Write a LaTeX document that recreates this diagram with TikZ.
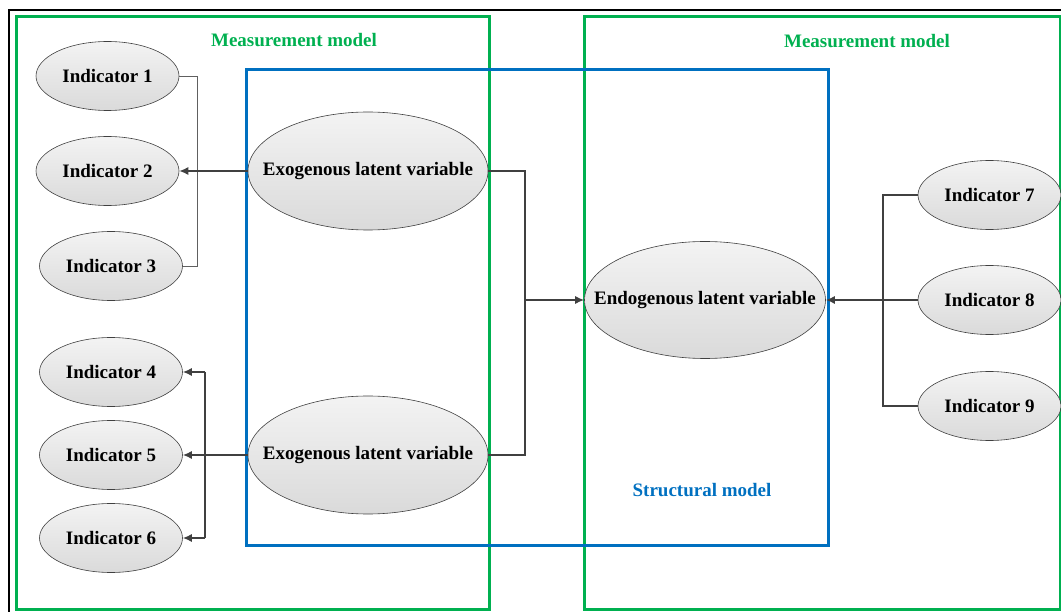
\documentclass[tikz,border=0pt]{standalone}
\usepackage{fontspec}
\setmainfont{Liberation Serif}
\usetikzlibrary{shapes.geometric,arrows.meta}

\definecolor{mgreen}{RGB}{0,176,80}
\definecolor{sblue}{RGB}{0,112,192}
\definecolor{linegray}{RGB}{64,64,64}
\definecolor{thingray}{RGB}{96,96,96}
\definecolor{elltop}{RGB}{243,243,243}
\definecolor{ellbot}{RGB}{218,218,218}

\tikzset{
  ell/.style={ellipse, draw=linegray, line width=0.6pt, top color=elltop, bottom color=ellbot,
    inner sep=0pt, font=\fontsize{19}{21}\selectfont\bfseries},
  indic/.style={ell, minimum width=143pt, minimum height=69pt},
  latent/.style={ell, minimum width=240pt, minimum height=118pt},
  conn/.style={draw=linegray, line width=1.4pt},
  thinconn/.style={draw=thingray, line width=0.9pt},
  arr/.style={conn, -{Latex[length=9pt,width=8pt]}},
  modelbox/.style={line width=3pt},
  boxlabel/.style={font=\fontsize{19}{21}\selectfont\bfseries}
}

\begin{document}
\begin{tikzpicture}[x=1pt, y=-1pt]
\useasboundingbox (0,0) rectangle (1061,612);

% outer frame
\draw[black, line width=2.5pt] (1075,10) -- (9,10) -- (9,625);

% measurement model frames
\draw[mgreen, modelbox] (16,17) rectangle (489,609);
\draw[mgreen, modelbox] (584,17) rectangle (1060,609);
% structural model frame
\draw[sblue, modelbox] (246,70) rectangle (828,545);

\node[boxlabel, text=mgreen] (mmL) at (294,40) {Measurement model};
\node[boxlabel, text=mgreen] (mmR) at (867,41) {Measurement model};
\node[boxlabel, text=sblue] (sm) at (702,490) {Structural model};

% indicators
\node[indic] (i1) at (107.5,76) {Indicator 1};
\node[indic] (i2) at (107.5,171) {Indicator 2};
\node[indic] (i3) at (111,266) {Indicator 3};
\node[indic] (i4) at (111,372) {Indicator 4};
\node[indic] (i5) at (111,455) {Indicator 5};
\node[indic] (i6) at (111,538) {Indicator 6};
\node[indic] (i7) at (989.5,195) {Indicator 7};
\node[indic] (i8) at (989.5,300) {Indicator 8};
\node[indic] (i9) at (989.5,406) {Indicator 9};

% latent variables
\node[latent] (x1) at (368,171) {\makebox[0pt]{Exogenous latent variable}};
\node[latent] (x2) at (368,455) {\makebox[0pt]{Exogenous latent variable}};
\node[latent, minimum width=241pt, minimum height=117pt] (en) at (705,300) {\makebox[0pt]{Endogenous latent variable}};

% junction points
\coordinate (jA) at (197,171);
\coordinate (jB) at (205,455);
\coordinate (jC) at (525,300);
\coordinate (jD) at (883,300);

% first exogenous block
\draw[thinconn] (i1.east) -- (jA |- i1.east) -- (jA |- i3.east) -- (i3.east);
\draw[arr] (x1.west) -- (i2.east);

% second exogenous block
\draw[conn] (jB |- i4.east) -- (jB |- i6.east);
\draw[arr] (jB |- i4.east) -- (i4.east);
\draw[arr] (jB |- i6.east) -- (i6.east);
\draw[arr] (x2.west) -- (i5.east);

% structural paths
\draw[conn] (x1.east) -| (jC);
\draw[conn] (x2.east) -| (jC);
\draw[arr] (jC) -- (en.west);

% endogenous indicators
\draw[conn] (i7.west) -| (jD) |- (i9.west);
\draw[arr] (i8.west) -- (en.east);
\end{tikzpicture}
\end{document}
